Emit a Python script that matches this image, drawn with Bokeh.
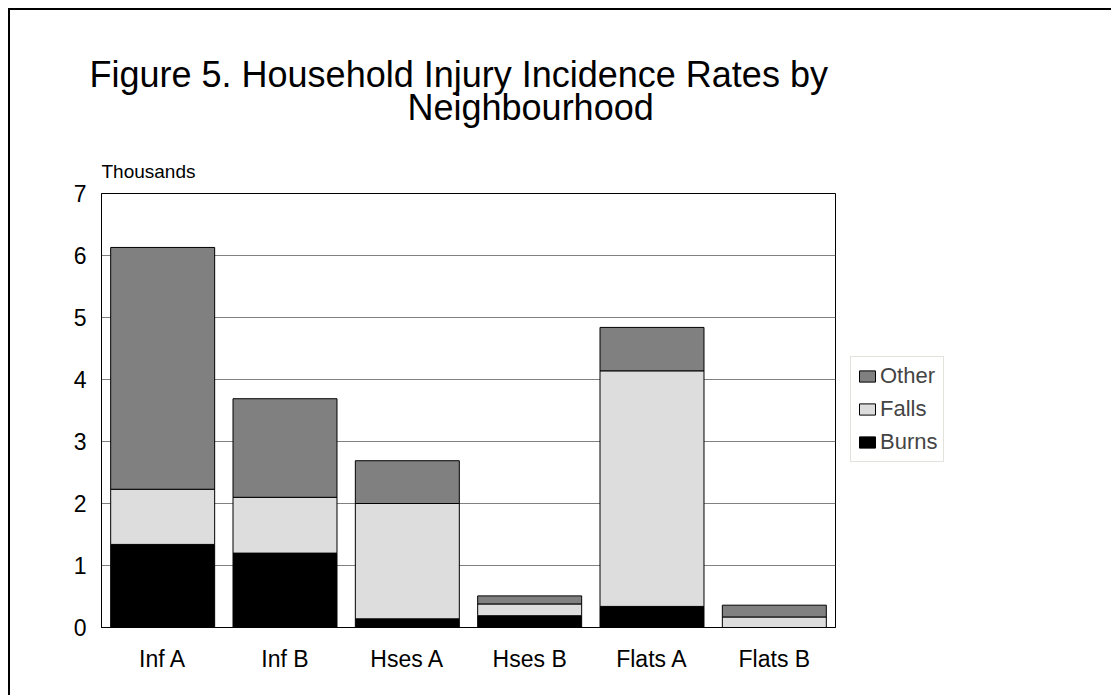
from bokeh.plotting import figure
from bokeh.models import Range1d, FactorRange, Title, Legend, LegendItem, FixedTicker
from bokeh.embed import file_html
from bokeh.resources import INLINE

# Injury incidence (thousands) by neighbourhood, stacked by injury type
neighbourhoods = ["Inf A", "Inf B", "Hses A", "Hses B", "Flats A", "Flats B"]
burns = [1.34, 1.20, 0.14, 0.19, 0.34, 0.00]
falls = [0.89, 0.90, 1.86, 0.19, 3.80, 0.17]
other = [3.90, 1.59, 0.69, 0.13, 0.70, 0.19]
series = ["Burns", "Falls", "Other"]
colors = ["#000000", "#dddddd", "#808080"]

FONT = "Liberation Sans"

p = figure(
    x_range=FactorRange(*neighbourhoods, range_padding=0),
    y_range=Range1d(0, 7),
    frame_width=734, frame_height=434,
    min_border_left=91, min_border_right=20,
    min_border_top=183, min_border_bottom=68,
    output_backend="svg", toolbar_location=None,
)
p.styles = {
    "margin-left": "8px", "margin-top": "8px",
    "border-left": "2px solid #000000", "border-top": "2px solid #000000",
}

data = {"cat": neighbourhoods, "Burns": burns, "Falls": falls, "Other": other}
renderers = p.vbar_stack(series, x="cat", width=0.85, source=data,
                         fill_color=colors, line_color="#000000", line_width=1)

# frame and grid
p.outline_line_color = "#000000"
p.outline_line_width = 1
p.background_fill_color = "#ffffff"
p.border_fill_color = "#ffffff"
p.xgrid.grid_line_color = None
p.ygrid.grid_line_color = "#808080"
p.ygrid.grid_line_width = 1

p.yaxis.ticker = FixedTicker(ticks=list(range(0, 8)))
for ax in (p.xaxis[0], p.yaxis[0]):
    ax.axis_line_color = "#000000"
    ax.major_tick_line_color = None
    ax.minor_tick_line_color = None
    ax.major_label_text_font = FONT
    ax.major_label_text_font_size = "23px"
    ax.major_label_text_color = "#000000"
p.yaxis.major_label_standoff = 9
p.xaxis.major_label_standoff = 12

# unit caption and two-line title, stacked upward from the plot frame
p.add_layout(Title(text="Thousands", align="left", offset=0, standoff=24,
                   text_font=FONT, text_font_size="19px",
                   text_font_style="normal", text_color="#000000"), "above")
p.add_layout(Title(text="Neighbourhood", align="left", offset=306, standoff=37,
                   text_font=FONT, text_font_size="36px",
                   text_font_style="normal", text_color="#000000"), "above")
p.add_layout(Title(text="Figure 5. Household Injury Incidence Rates by",
                   align="left", offset=-12, standoff=-57,
                   text_font=FONT, text_font_size="36px",
                   text_font_style="normal", text_color="#000000"), "above")

items = [LegendItem(label=name, renderers=[r]) for name, r in zip(series, renderers)][::-1]
legend = Legend(items=items, location=(15, 165))
legend.label_text_font = FONT
legend.label_text_font_size = "22px"
legend.glyph_width = 20
legend.glyph_height = 14
legend.label_standoff = 3
legend.spacing = 7
legend.padding = 6
legend.margin = 0
legend.border_line_color = "#c8c8bc"
legend.border_line_width = 1
legend.background_fill_color = "#ffffff"
p.add_layout(legend, "right")

open("out.html", "w").write(file_html(p, INLINE))
